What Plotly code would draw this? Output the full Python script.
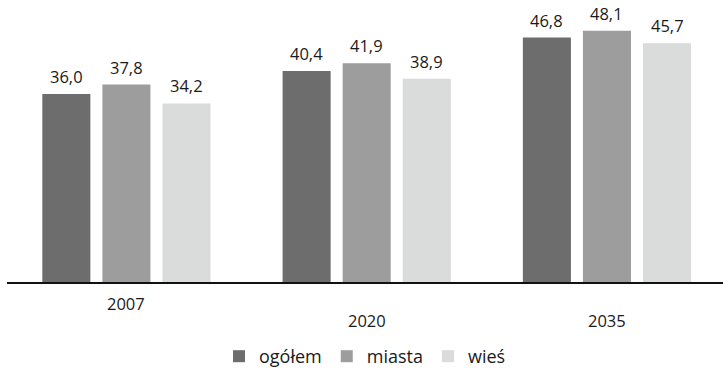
import plotly.graph_objects as go

# Średni wiek ludności
years = ["2007", "2020", "2035"]
series_names = ["ogółem", "miasta", "wieś"]
ogolem = [36.0, 40.4, 46.8]
miasta = [37.8, 41.9, 48.1]
wies = [34.2, 38.9, 45.7]
colors = ["#6d6d6d", "#9d9d9d", "#dadbdb"]

FONT = "Open Sans"
values = [ogolem, miasta, wies]

fig = go.Figure()
for name, vals, col in zip(series_names, values, colors):
    fig.add_trace(go.Bar(
        x=years, y=vals, name=name, marker=dict(color=col, line=dict(width=0)),
    ))

# value labels above each bar (grouped offsets: slot width = (1 - bargap) / 3)
bargap = 0.25
slot = (1 - bargap) / 3
for k, vals in enumerate(values):
    for i, v in enumerate(vals):
        fig.add_annotation(
            x=i + (k - 1) * slot, y=v, xref="x", yref="y",
            text=f"{v:.1f}".replace(".", ","), showarrow=False,
            yanchor="bottom", yshift=4,
            font=dict(family=FONT, size=16.5, color="#1a1a1a"),
        )

# category labels under the axis, staggered
label_y = [320, 338, 338]
for i, (yr, py) in enumerate(zip(years, label_y)):
    fig.add_annotation(
        x=i, y=(375 - py - 78) / 297, xref="x", yref="paper",
        text=yr, showarrow=False, yanchor="middle",
        font=dict(family=FONT, size=16.5, color="#1a1a1a"),
    )

fig.update_layout(
    width=723, height=375,
    margin=dict(l=7, r=0, t=0, b=78),
    paper_bgcolor="white", plot_bgcolor="white",
    barmode="group", bargap=bargap, bargroupgap=0.2,
    showlegend=True,
    legend=dict(
        orientation="h", x=0.5, xanchor="center", y=-0.2, yanchor="top",
        font=dict(family=FONT, size=18, color="#1a1a1a"),
        itemclick=False, traceorder="normal",
    ),
    font=dict(family=FONT),
)
fig.update_xaxes(
    type="category", range=[-0.497, 2.483],
    showticklabels=False, ticks="", showgrid=False,
    showline=True, linecolor="#111111", linewidth=1.5,
)
fig.update_yaxes(range=[0, 54], visible=False, showgrid=False, zeroline=False)

fig.write_html("out.html")
